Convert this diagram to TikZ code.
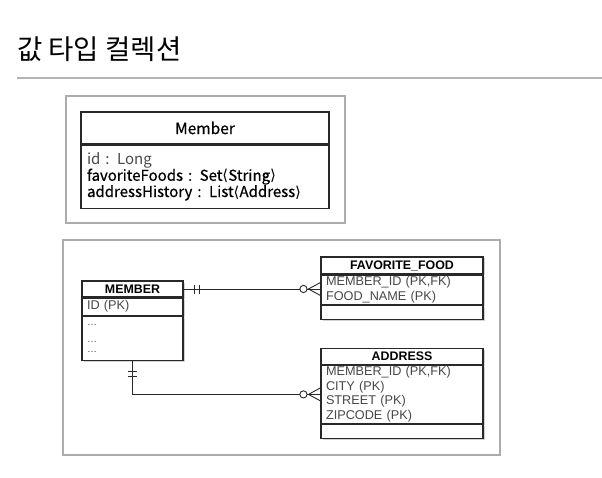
\documentclass[tikz,border=0pt]{standalone}
\usepackage{fontspec}
\setmainfont{Noto Sans CJK KR}
\newfontfamily\erfont{Liberation Sans}
\newfontfamily\clsfont{Noto Sans CJK KR}[FakeBold=0.6]
\newfontfamily\brfont{DejaVu Sans}
\usetikzlibrary{positioning,shadows,decorations.markings}
\definecolor{frameGray}{RGB}{172,172,172}
\definecolor{ruleGray}{RGB}{180,180,180}
\definecolor{rowGray}{RGB}{72,72,72}
\definecolor{lineDark}{RGB}{40,40,40}

\newcommand{\langbr}{{\brfont ⟨}}
\newcommand{\rangbr}{{\brfont ⟩}}

\tikzset{
  frame/.style={draw=frameGray,line width=1.4pt,fill=white},
  tblbase/.style={draw=lineDark,line width=1.1pt,fill=white,inner ysep=0pt,
    drop shadow={shadow xshift=1.5pt,shadow yshift=-1.5pt,opacity=0.35}},
  tblhead/.style={tblbase,minimum height=#1,inner xsep=0pt,
    font=\erfont\bfseries\fontsize{12.4}{14}\selectfont},
  tblrow/.style={tblbase,minimum height=#1,inner xsep=5pt,align=left,
    text=rowGray,font=\erfont\fontsize{12.7}{14.6}\selectfont},
  clshead/.style={draw=lineDark,line width=1.1pt,fill=white,minimum width=248pt,
    minimum height=32pt,inner sep=0pt,font=\clsfont\fontsize{15.5}{18}\selectfont},
  clsbody/.style={draw=lineDark,line width=1.1pt,fill=white,minimum height=63pt,
    text width=236pt,inner xsep=6pt,inner ysep=0pt,align=left,
    font=\clsfont\fontsize{15}{16.2}\selectfont},
  erline/.style={draw=lineDark,line width=0.9pt},
  oneonly/.style={postaction={decorate,decoration={markings,
    mark=at position 11pt with {\draw[lineDark,line width=0.9pt] (0,-4.5pt) -- (0,4.5pt);},
    mark=at position 16pt with {\draw[lineDark,line width=0.9pt] (0,-4.5pt) -- (0,4.5pt);}}}},
  zeromany/.style={postaction={decorate,decoration={markings,
    mark=at position 1 with {\draw[lineDark,line width=0.9pt,fill=white] (-17pt,0) circle (3.6pt);
      \draw[lineDark,line width=0.9pt] (0,6.5pt) -- (-12pt,0) -- (0,-6.5pt);}}}}
}

\begin{document}
\begin{tikzpicture}[x=1pt,y=-1pt]
  \useasboundingbox (0,0) rectangle (602,478);

  % title and rule
  \node[anchor=west,inner sep=0pt,font=\fontsize{27.5}{30}\selectfont] (title) at (17,49) {값 타입 컬렉션};
  \draw[ruleGray,line width=1.2pt] (17,78) -- (602,78);

  % frames
  \draw[frame] (66,96) rectangle (345,223);
  \draw[frame] (63,240) rectangle (500,455);

  % object model
  \node[clshead] (cls) at (205,128) {Member};
  \node[clsbody,below=0pt of cls] (clsb) {{\rmfamily\color{rowGray}id : Long}\\
    favoriteFoods : Set\langbr String\rangbr\\
    addressHistory : List\langbr Address\rangbr};

  % MEMBER table
  \node[tblhead=16pt,minimum width=101pt] (mh) at (132.5,289) {MEMBER};
  \node[tblrow=17pt,text width=91pt,below=0pt of mh] (mb) {ID (PK)};
  \node[tblrow=44pt,text width=91pt,below=0pt of mb,font=\erfont\fontsize{10}{10}\selectfont] (me)
    {\dots\\[7pt]\dots\\\dots};

  % FAVORITE_FOOD table
  \node[tblhead=17pt,minimum width=162pt] (fh) at (402,265.5) {FAVORITE\_FOOD};
  \node[tblrow=29pt,text width=152pt,below=0pt of fh] (fb) {MEMBER\_ID (PK,FK)\\FOOD\_NAME (PK)};
  \node[tblrow=14pt,text width=152pt,below=0pt of fb] (fe) {};

  % ADDRESS table
  \node[tblhead=16pt,minimum width=162pt,below=28pt of fe] (ah) {ADDRESS};
  \node[tblrow=58pt,text width=152pt,below=0pt of ah] (ab)
    {MEMBER\_ID (PK,FK)\\CITY (PK)\\STREET (PK)\\ZIPCODE (PK)};
  \node[tblrow=14pt,text width=152pt,below=0pt of ab] (ae) {};

  % relations
  \draw[erline,oneonly,zeromany] (mh.east) -- (mh.east -| fb.west);
  \draw[erline,oneonly,zeromany] (me.south) |- (ab.west);
\end{tikzpicture}
\end{document}
